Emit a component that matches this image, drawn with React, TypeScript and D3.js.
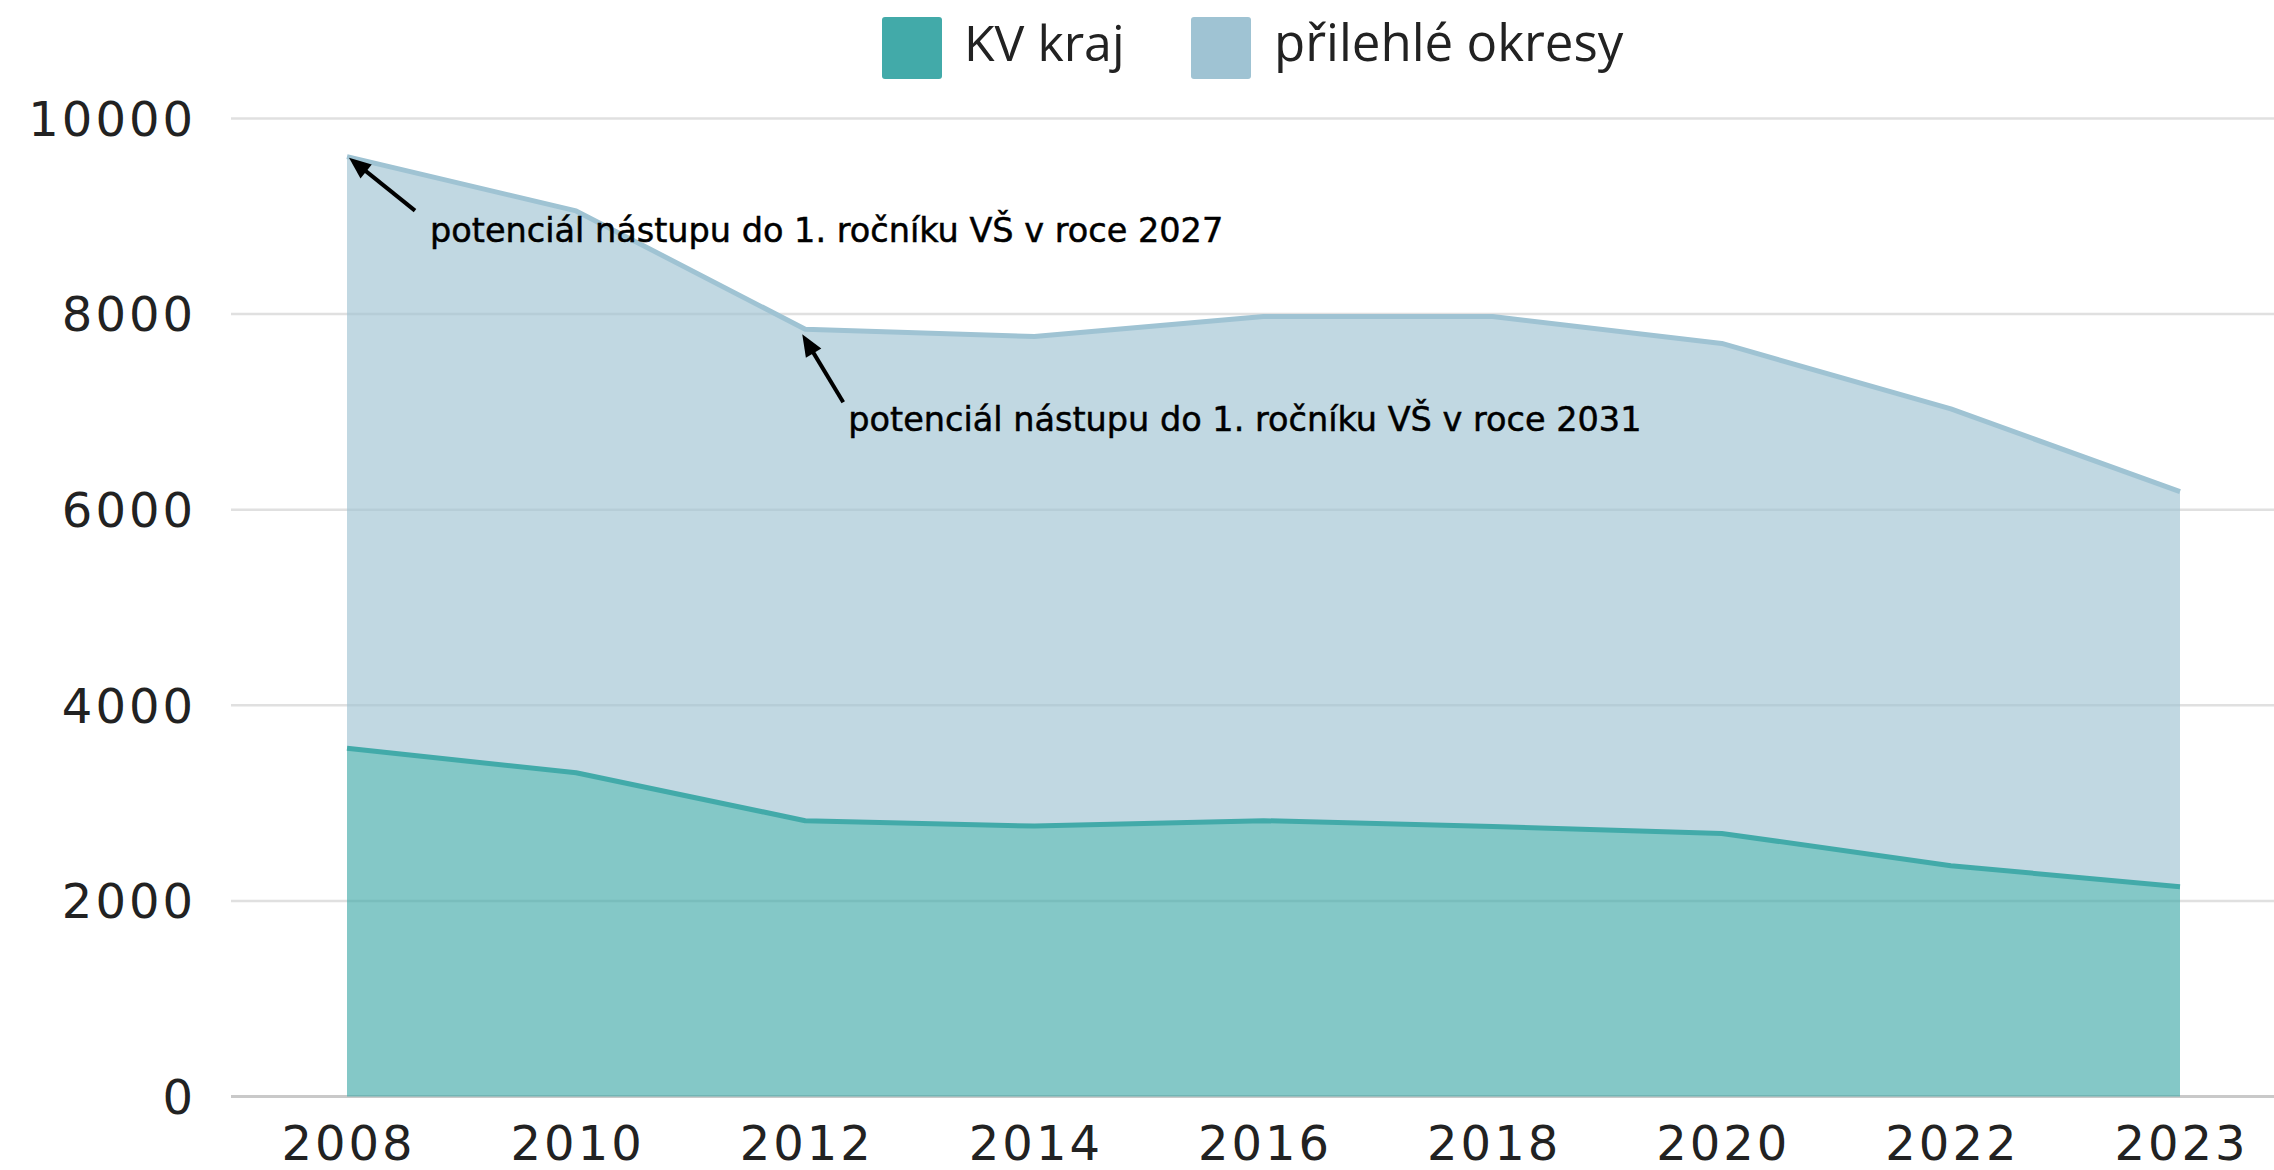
import React from "react";
import * as d3 from "d3";

const years = ["2008", "2010", "2012", "2014", "2016", "2018", "2020", "2022", "2023"];
const kvKraj = [3560, 3310, 2820, 2765, 2820, 2760, 2690, 2360, 2145];
const prilehleOkresy = [6050, 5745, 5025, 5005, 5155, 5215, 5010, 4670, 4040];
const yTicks = [0, 2000, 4000, 6000, 8000, 10000];
const seriesNames = ["KV kraj", "přilehlé okresy"];
const seriesColors = ["#42aaa9", "#9fc3d3"];
const annotations = [
  { year: "2008", text: "potenciál nástupu do 1. ročníku VŠ v roce 2027" },
  { year: "2012", text: "potenciál nástupu do 1. ročníku VŠ v roce 2031" },
];

const W = 2274;
const H = 1170;

export default function App() {
  const x = d3.scalePoint<string>().domain(years).range([347, 2180]);
  const y = d3.scaleLinear().domain([0, 10000]).range([1096.5, 118.5]);

  const rows = years.map((yr, i) => ({ year: yr, kv: kvKraj[i], pr: prilehleOkresy[i] }));
  const stack = d3.stack<any>().keys(["kv", "pr"])(rows);

  const area = d3
    .area<any>()
    .x((d) => x(d.data.year) as number)
    .y0((d) => y(d[0]))
    .y1((d) => y(d[1]));
  const line = d3
    .line<any>()
    .x((d) => x(d.data.year) as number)
    .y((d) => y(d[1]));

  const totals = stack[1];
  const tip1x = (x(annotations[0].year) as number) + 2;
  const tip1y = y(totals[0][1]) + 1;
  const tip2x = (x(annotations[1].year) as number) - 3;
  const tip2y = y(totals[2][1]) + 5;

  const arrow = (tx: number, ty: number, sx: number, sy: number, key: string) => {
    const ang = Math.atan2(ty - sy, tx - sx);
    const len = 22;
    const hw = 9;
    const bx = tx - len * Math.cos(ang);
    const by = ty - len * Math.sin(ang);
    const px = -Math.sin(ang) * hw;
    const py = Math.cos(ang) * hw;
    return (
      <g key={key}>
        <line x1={sx} y1={sy} x2={bx + 2 * Math.cos(ang)} y2={by + 2 * Math.sin(ang)} stroke="#000" strokeWidth={4} />
        <path d={`M${tx},${ty}L${bx + px},${by + py}L${bx - px},${by - py}Z`} fill="#000" />
      </g>
    );
  };

  const axisFont = "'DejaVu Sans'";

  return (
    <svg
      width={W}
      height={H}
      style={{ position: "absolute", left: 0, top: 0, background: "#fff" }}
    >
      {yTicks.map((t) => (
        <line
          key={t}
          x1={231}
          x2={W}
          y1={y(t)}
          y2={y(t)}
          stroke={t === 0 ? "#c9c9c9" : "#e0e0e0"}
          strokeWidth={t === 0 ? 3 : 2.5}
        />
      ))}
      {stack.map((s, i) => (
        <path key={"a" + i} d={area(s) as string} fill={seriesColors[i]} fillOpacity={0.65} />
      ))}
      {stack.map((s, i) => (
        <path
          key={"l" + i}
          d={line(s) as string}
          fill="none"
          stroke={seriesColors[i]}
          strokeWidth={5}
          strokeLinejoin="round"
        />
      ))}
      {yTicks.map((t) => (
        <text
          key={"yl" + t}
          x={196}
          y={y(t)}
          dy="0.36em"
          textAnchor="end"
          fontFamily={axisFont}
          fontSize={48}
          letterSpacing={3}
          fill="#222"
        >
          {t}
        </text>
      ))}
      {years.map((yr) => (
        <text
          key={"xl" + yr}
          x={(x(yr) as number) + 1.5}
          y={1160}
          textAnchor="middle"
          fontFamily={axisFont}
          fontSize={48}
          letterSpacing={3}
          fill="#222"
        >
          {yr}
        </text>
      ))}
      <rect x={882} y={17} width={60} height={62} rx={3} fill={seriesColors[0]} />
      <text x={964} y={61} fontFamily="'Open Sans'" fontSize={50} fill="#222">
        {seriesNames[0]}
      </text>
      <rect x={1191} y={17} width={60} height={62} rx={3} fill={seriesColors[1]} />
      <text x={1274} y={61} fontFamily="'Open Sans'" fontSize={51} fill="#222">
        {seriesNames[1]}
      </text>
      {arrow(tip1x, tip1y, tip1x + 66, tip1y + 53, "ar1")}
      <text
        x={tip1x + 81}
        y={tip1y + 84}
        fontFamily="'DejaVu Sans'"
        fontSize={33.5}
        fill="#000"
        stroke="#000"
        strokeWidth={0.5}
      >
        {annotations[0].text}
      </text>
      {arrow(tip2x, tip2y, tip2x + 41, tip2y + 68, "ar2")}
      <text
        x={tip2x + 46}
        y={tip2y + 97}
        fontFamily="'DejaVu Sans'"
        fontSize={33.5}
        fill="#000"
        stroke="#000"
        strokeWidth={0.5}
      >
        {annotations[1].text}
      </text>
    </svg>
  );
}
